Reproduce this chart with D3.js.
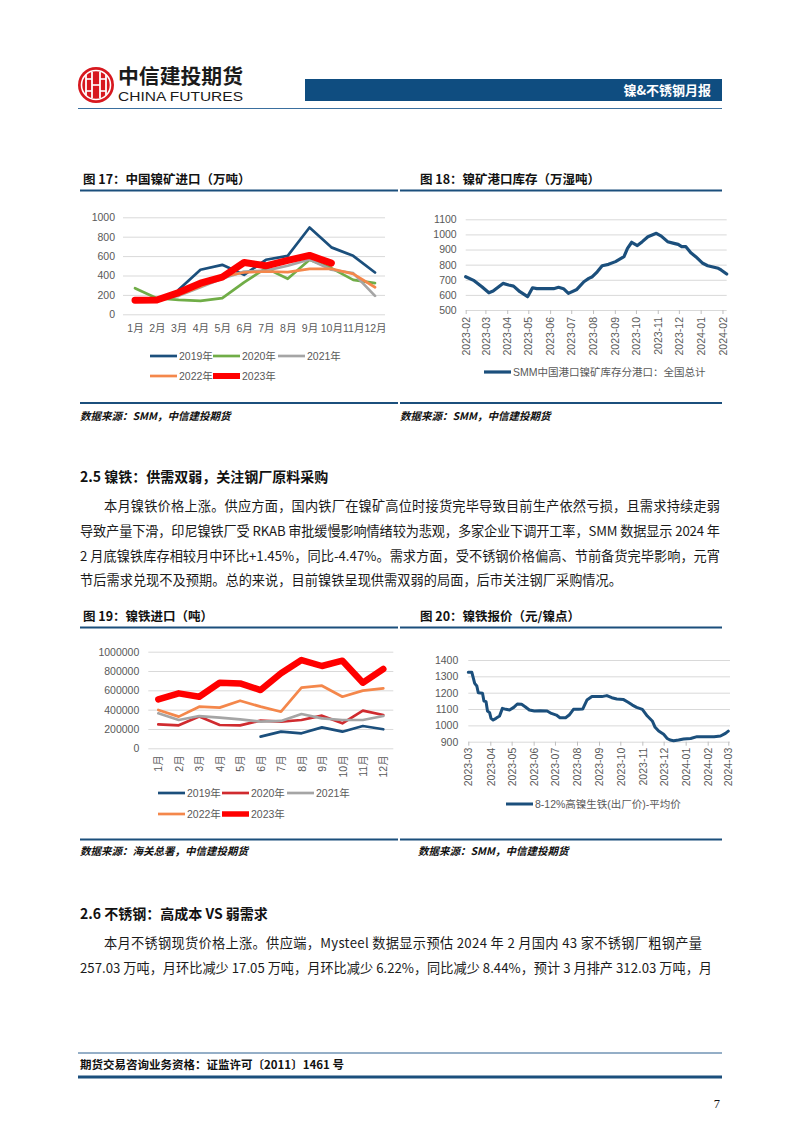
<!DOCTYPE html>
<html><head><meta charset="utf-8">
<script src="https://cdn.jsdelivr.net/npm/d3@7"></script>
<style>
body{margin:0;background:#fff;}
svg{display:block;font-family:"Noto Sans CJK SC","Liberation Sans",sans-serif;}
</style></head><body>
<svg id="page" width="802" height="1133"></svg>
<script>
// ---------- DATA ----------
const months = ["1月","2月","3月","4月","5月","6月","7月","8月","9月","10月","11月","12月"];
const yearNames = ["2019年","2020年","2021年","2022年","2023年"];

// 图17 中国镍矿进口（万吨）
const ore2019 = [null,null,252,459,510,407,562,603,895,690,603,431];
const ore2020 = [269,166,148,138,166,330,476,366,562,476,355,321];
const ore2021 = [140,150,190,280,370,440,450,500,565,459,424,190];
const ore2022 = [140,150,200,286,390,431,441,434,469,469,417,279];
const ore2023 = [145,148,224,321,383,534,500,555,607,528,null,null];
const oreTicks = [0,200,400,600,800,1000];

// 图18 镍矿港口库存（万湿吨）
const portDates = ["2023-02-01","2023-02-13","2023-02-24","2023-03-06","2023-03-12","2023-03-26","2023-04-03","2023-04-10","2023-04-19","2023-04-30","2023-05-07","2023-05-13","2023-06-06","2023-06-13","2023-06-20","2023-06-27","2023-07-09","2023-07-19","2023-07-26","2023-07-31","2023-08-07","2023-08-14","2023-08-23","2023-09-02","2023-09-14","2023-09-19","2023-09-25","2023-10-03","2023-10-10","2023-10-18","2023-10-30","2023-11-06","2023-11-15","2023-11-24","2023-11-30","2023-12-05","2023-12-11","2023-12-18","2023-12-25","2024-01-04","2024-01-11","2024-01-26","2024-01-30","2024-02-07"];
const portStock = [720,694,654,614,625,676,665,658,621,588,647,641,641,650,641,610,636,687,709,720,753,793,802,820,853,908,948,926,952,985,1007,989,952,941,934,919,919,879,853,809,793,776,765,738];
const portTicks = [500,600,700,800,900,1000,1100];

// 图19 镍铁进口（吨）
const fe2019 = [null,null,null,null,null,121000,172000,155000,217000,172000,231000,197000];
const fe2020 = [248000,238000,328000,241000,238000,286000,276000,293000,338000,259000,390000,345000];
const fe2021 = [362000,293000,334000,317000,300000,276000,283000,355000,310000,293000,293000,334000];
const fe2022 = [397000,328000,431000,421000,493000,431000,379000,628000,648000,534000,597000,621000];
const fe2023 = [507000,569000,534000,679000,672000,603000,776000,914000,852000,907000,679000,821000];
const feTicks = [0,200000,400000,600000,800000,1000000];

// 图20 镍铁报价（元/镍点）
const npiDates = ["2023-03-01","2023-03-06","2023-03-10","2023-03-13","2023-03-15","2023-03-21","2023-03-23","2023-03-26","2023-03-28","2023-03-31","2023-04-02","2023-04-05","2023-04-09","2023-04-14","2023-04-18","2023-04-23","2023-04-28","2023-05-04","2023-05-09","2023-05-15","2023-05-20","2023-05-26","2023-06-02","2023-06-10","2023-06-20","2023-06-26","2023-07-03","2023-07-08","2023-07-16","2023-07-21","2023-07-27","2023-08-03","2023-08-09","2023-08-15","2023-08-22","2023-08-29","2023-09-05","2023-09-12","2023-09-19","2023-09-26","2023-10-05","2023-10-12","2023-10-18","2023-10-24","2023-11-01","2023-11-08","2023-11-15","2023-11-19","2023-11-24","2023-12-01","2023-12-06","2023-12-10","2023-12-15","2023-12-22","2023-12-29","2024-01-08","2024-01-17","2024-01-24","2024-02-10","2024-02-19","2024-02-26","2024-03-01"];
const npiPrice = [1325,1325,1257,1241,1200,1196,1149,1145,1088,1078,1043,1033,1043,1057,1104,1098,1094,1110,1131,1129,1114,1094,1088,1090,1088,1073,1063,1047,1047,1063,1098,1098,1100,1155,1176,1176,1176,1182,1169,1161,1159,1141,1124,1110,1098,1057,1027,988,965,945,920,910,906,910,916,920,931,931,931,935,951,965];
const npiTicks = [900,1000,1100,1200,1300,1400];

// ---------- STYLE ----------
const BLUE = "#1b4f7c", GRID = "#d9d9d9", LAB = "#595959";
const svg = d3.select("#page");
const parse = d3.timeParse("%Y-%m-%d");
const fmtInt = d3.format("d");

// ---------- HEADER ----------
const logo = svg.append("g");
logo.append("circle").attr("cx",96).attr("cy",85).attr("r",18).attr("fill","#d7181f");
logo.append("circle").attr("cx",96).attr("cy",85).attr("r",14.5).attr("fill","none").attr("stroke","#fff").attr("stroke-width",1.6);
[[86,75,86,95],[106,75,106,95],[92,72,92,98],[100,72,100,98]].forEach(l=>
  logo.append("line").attr("x1",l[0]).attr("y1",l[1]).attr("x2",l[2]).attr("y2",l[3]).attr("stroke","#fff").attr("stroke-width",1.8));
[[86,79,92,79],[100,79,106,79],[86,91,92,91],[100,91,106,91],[92,85,100,85]].forEach(l=>
  logo.append("line").attr("x1",l[0]).attr("y1",l[1]).attr("x2",l[2]).attr("y2",l[3]).attr("stroke","#fff").attr("stroke-width",1.6));
svg.append("text").attr("x",118).attr("y",77).attr("dy","0.35em").attr("font-size",20).attr("font-weight",700)
  .attr("fill","#1a1a1a").attr("textLength",125).attr("lengthAdjust","spacingAndGlyphs").text("中信建投期货");
svg.append("text").attr("x",118).attr("y",97).attr("dy","0.35em").attr("font-size",12).attr("font-family","Liberation Sans")
  .attr("fill","#1a1a1a").attr("textLength",125).attr("lengthAdjust","spacingAndGlyphs").text("CHINA FUTURES");
svg.append("rect").attr("x",305).attr("y",79).attr("width",417).attr("height",22).attr("fill","#0f4d80");
svg.append("text").attr("x",711).attr("y",90).attr("dy","0.35em").attr("text-anchor","end").attr("font-size",13)
  .attr("font-weight",700).attr("fill","#fff").text("镍&不锈钢月报");
svg.append("line").attr("x1",78).attr("x2",722).attr("y1",108.5).attr("y2",108.5).attr("stroke","#3a6f9f").attr("stroke-width",1);

// ---------- helpers ----------
function hline(x1,x2,y,w,c){svg.append("line").attr("x1",x1).attr("x2",x2).attr("y1",y).attr("y2",y).attr("stroke",c||BLUE).attr("stroke-width",w);}
function title(x,y,t){svg.append("text").attr("x",x).attr("y",y).attr("dy","0.35em").attr("font-size",12.5).attr("font-weight",700).attr("fill","#111").text(t);}
function source(x,y,t){svg.append("text").attr("x",x).attr("y",y).attr("dy","0.35em").attr("font-size",10.5).attr("font-weight",700)
  .attr("font-style","italic").attr("fill","#111").text(t);}
function styleAxis(g){g.select(".domain").remove();g.selectAll(".tick line").attr("stroke",GRID);
  g.selectAll("text").attr("fill",LAB).attr("font-size",10.5).attr("font-family","Liberation Sans, Noto Sans CJK SC");}
function legendItem(x,y,color,w,label){
  svg.append("line").attr("x1",x).attr("x2",x+27).attr("y1",y).attr("y2",y).attr("stroke",color).attr("stroke-width",w);
  svg.append("text").attr("x",x+29).attr("y",y).attr("dy","0.35em").attr("font-size",10.5).attr("fill",LAB)
    .attr("font-family","Liberation Sans, Noto Sans CJK SC").text(label);}

// ---------- 图17 ----------
title(83,180,"图 17：中国镍矿进口（万吨）");
hline(80,398,190.5,2);
{
  const x = d3.scalePoint().domain(months).range([135,375]);
  const y = d3.scaleLinear().domain([0,1000]).range([314.3,217.3]);
  const gy = svg.append("g").attr("transform","translate(123,0)")
    .call(d3.axisLeft(y).tickValues(oreTicks).tickSize(-(385-123)).tickPadding(8).tickFormat(fmtInt));
  styleAxis(gy);
  const gx = svg.append("g").attr("transform","translate(0,314.3)").call(d3.axisBottom(x).tickSize(0).tickPadding(10));
  styleAxis(gx);
  const series = [[ore2019,"#1b4f7c",2.7],[ore2020,"#70ad47",2.7],[ore2021,"#a5a5a5",2.7],[ore2022,"#f4874b",2.7],[ore2023,"#ff0000",7]];
  const line = d3.line().defined(d=>d!=null).x((d,i)=>x(months[i])).y(d=>y(d));
  series.forEach(s=>svg.append("path").attr("d",line(s[0])).attr("fill","none").attr("stroke",s[1])
    .attr("stroke-width",s[2]).attr("stroke-linejoin","round").attr("stroke-linecap","round"));
  legendItem(150,356,series[0][1],2.7,yearNames[0]);
  legendItem(213,356,series[1][1],2.7,yearNames[1]);
  legendItem(278,356,series[2][1],2.7,yearNames[2]);
  legendItem(150,376,series[3][1],2.7,yearNames[3]);
  legendItem(213,376,series[4][1],6,yearNames[4]);
}
hline(80,398,403,2);
source(80,416,"数据来源：SMM，中信建投期货");

// ---------- 图18 ----------
title(420,180,"图 18：镍矿港口库存（万湿吨）");
hline(400,722,190.5,2);
{
  const x = d3.scaleTime().domain([parse("2023-02-01"),parse("2024-02-07")]).range([465.7,726.7]);
  const y = d3.scaleLinear().domain([500,1100]).range([310,219.3]);
  const gy = svg.append("g").attr("transform","translate(465.7,0)")
    .call(d3.axisLeft(y).tickValues(portTicks).tickSize(-(726.7-465.7)).tickPadding(9).tickFormat(fmtInt));
  styleAxis(gy);
  const gx = svg.append("g").attr("transform","translate(0,310)")
    .call(d3.axisBottom(x).ticks(d3.timeMonth.every(1)).tickFormat(d3.timeFormat("%Y-%m")).tickSize(4));
  styleAxis(gx);
  gx.selectAll(".tick line").attr("stroke","#bfbfbf");
  gx.selectAll("text").attr("transform","rotate(-90)").attr("text-anchor","end").attr("x",-7).attr("y",0).attr("dy","0.35em");
  const pts = portDates.map((d,i)=>[parse(d),portStock[i]]);
  svg.append("path").attr("d",d3.line().x(d=>x(d[0])).y(d=>y(d[1]))(pts)).attr("fill","none").attr("stroke",BLUE)
    .attr("stroke-width",3.2).attr("stroke-linejoin","round").attr("stroke-linecap","round");
  legendItem(484,372,BLUE,3.2,"SMM中国港口镍矿库存分港口：全国总计");
}
hline(400,722,403,2);
source(400,416,"数据来源：SMM，中信建投期货");

// ---------- Section 2.5 ----------
function heading(y,t){svg.append("text").attr("x",80).attr("y",y).attr("dy","0.35em").attr("font-size",14).attr("font-weight",700).attr("fill","#111").text(t);}
function para(x,y,t,len){const e=svg.append("text").attr("x",x).attr("y",y).attr("dy","0.35em").attr("font-size",13.2).attr("fill","#1a1a1a").text(t);
  if(len) e.attr("textLength",len).attr("lengthAdjust","spacing");}
heading(477,"2.5 镍铁：供需双弱，关注钢厂原料采购");
para(104,506,"本月镍铁价格上涨。供应方面，国内铁厂在镍矿高位时接货完毕导致目前生产依然亏损，且需求持续走弱",616);
para(80,531,"导致产量下滑，印尼镍铁厂受 RKAB 审批缓慢影响情绪较为悲观，多家企业下调开工率，SMM 数据显示 2024 年",640);
para(80,556,"2 月底镍铁库存相较月中环比+1.45%，同比-4.47%。需求方面，受不锈钢价格偏高、节前备货完毕影响，元宵",640);
para(80,580,"节后需求兑现不及预期。总的来说，目前镍铁呈现供需双弱的局面，后市关注钢厂采购情况。",542);

// ---------- 图19 ----------
title(83,617,"图 19：镍铁进口（吨）");
hline(80,398,627.5,2);
{
  const x = d3.scalePoint().domain(months).range([158.3,383.3]);
  const y = d3.scaleLinear().domain([0,1000000]).range([748.3,651.7]);
  const gy = svg.append("g").attr("transform","translate(148.3,0)")
    .call(d3.axisLeft(y).tickValues(feTicks).tickSize(-(393.3-148.3)).tickPadding(9).tickFormat(fmtInt));
  styleAxis(gy);
  const gx = svg.append("g").attr("transform","translate(0,748.3)").call(d3.axisBottom(x).tickSize(0));
  styleAxis(gx);
  gx.selectAll("text").attr("transform","rotate(-90)").attr("text-anchor","end").attr("x",-7).attr("y",0).attr("dy","0.35em");
  const series = [[fe2019,"#1b4f7c",2.7],[fe2020,"#d02b2f",2.7],[fe2021,"#a5a5a5",2.7],[fe2022,"#f4874b",2.7],[fe2023,"#ff0000",6.5]];
  const line = d3.line().defined(d=>d!=null).x((d,i)=>x(months[i])).y(d=>y(d));
  series.forEach(s=>svg.append("path").attr("d",line(s[0])).attr("fill","none").attr("stroke",s[1])
    .attr("stroke-width",s[2]).attr("stroke-linejoin","round").attr("stroke-linecap","round"));
  legendItem(158,793,series[0][1],2.7,yearNames[0]);
  legendItem(222,793,series[1][1],2.7,yearNames[1]);
  legendItem(287,793,series[2][1],2.7,yearNames[2]);
  legendItem(158,814,series[3][1],2.7,yearNames[3]);
  legendItem(222,814,series[4][1],5.5,yearNames[4]);
}
hline(80,398,839.5,2);
source(80,851,"数据来源：海关总署，中信建投期货");

// ---------- 图20 ----------
title(420,617,"图 20：镍铁报价（元/镍点）");
hline(400,722,627.5,2);
{
  const x = d3.scaleTime().domain([parse("2023-03-01"),parse("2024-03-01")]).range([468.3,728.3]);
  const y = d3.scaleLinear().domain([900,1400]).range([741.7,660]);
  const gy = svg.append("g").attr("transform","translate(468.3,0)")
    .call(d3.axisLeft(y).tickValues(npiTicks).tickSize(-(730-468.3)).tickPadding(10).tickFormat(fmtInt));
  styleAxis(gy);
  const gx = svg.append("g").attr("transform","translate(0,741.7)")
    .call(d3.axisBottom(x).ticks(d3.timeMonth.every(1)).tickFormat(d3.timeFormat("%Y-%m")).tickSize(4));
  styleAxis(gx);
  gx.selectAll(".tick line").attr("stroke","#bfbfbf");
  gx.selectAll("text").attr("transform","rotate(-90)").attr("text-anchor","end").attr("x",-6).attr("y",0).attr("dy","0.35em");
  const pts = npiDates.map((d,i)=>[parse(d),npiPrice[i]]);
  svg.append("path").attr("d",d3.line().x(d=>x(d[0])).y(d=>y(d[1]))(pts)).attr("fill","none").attr("stroke",BLUE)
    .attr("stroke-width",3).attr("stroke-linejoin","round").attr("stroke-linecap","round");
  legendItem(506,804,BLUE,3,"8-12%高镍生铁(出厂价)-平均价");
}
hline(400,722,839.5,2);
source(418,851,"数据来源：SMM，中信建投期货");

// ---------- Section 2.6 ----------
heading(914,"2.6 不锈钢：高成本 VS 弱需求");
para(104,943,"本月不锈钢现货价格上涨。供应端，Mysteel 数据显示预估 2024 年 2 月国内 43 家不锈钢厂粗钢产量",598);
para(80,968,"257.03 万吨，月环比减少 17.05 万吨，月环比减少 6.22%，同比减少 8.44%，预计 3 月排产 312.03 万吨，月",632);

// ---------- Footer ----------
hline(78,722,1053,1,"#2b5f8f");
svg.append("text").attr("x",80).attr("y",1065).attr("dy","0.35em").attr("font-size",11.5).attr("font-weight",700).attr("fill","#111")
  .text("期货交易咨询业务资格：证监许可〔2011〕1461 号");
hline(78,722,1077,3,"#1b4f7c");
svg.append("text").attr("x",720).attr("y",1104).attr("dy","0.35em").attr("text-anchor","end").attr("font-size",12.5)
  .attr("font-family","Liberation Serif").attr("fill","#111").text("7");
</script></body></html>
